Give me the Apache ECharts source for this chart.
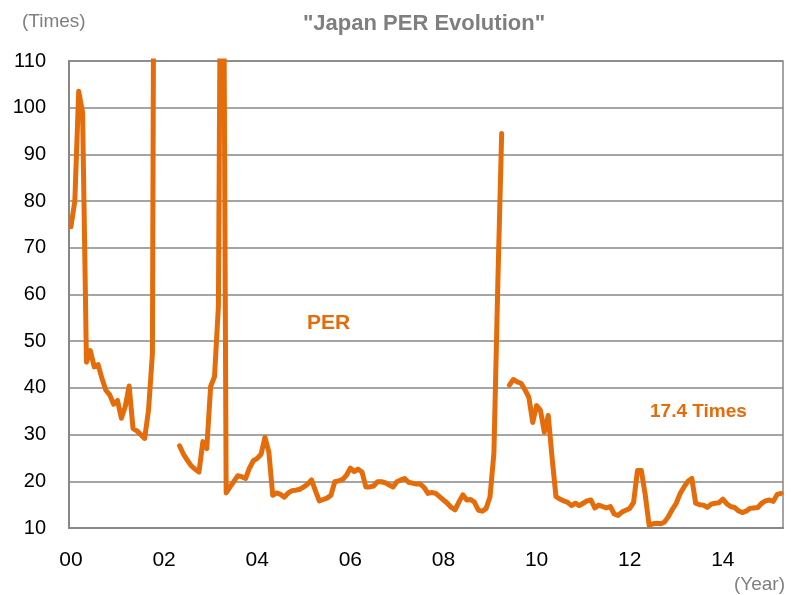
<!DOCTYPE html>
<html>
<head>
<meta charset="utf-8">
<title>Japan PER Evolution</title>
<script src="https://cdn.jsdelivr.net/npm/echarts@6/dist/echarts.min.js"></script>
<style>
  html, body { margin: 0; padding: 0; background: #fff; }
  #main { width: 793px; height: 595px; }
</style>
</head>
<body>
<div id="main"></div>
<script>
// 月度数据 2000/01 - 2015/04
var startYear = 2000
var yearTicks = ['00', '02', '04', '06', '08', '10', '12', '14']
var yTicks = [10, 20, 30, 40, 50, 60, 70, 80, 90, 100, 110]
// PER (times) — values above 110 run off the top of the chart
var per2000 = [74.5, 80, 103.5, 99, 45.5, 48, 44.5, 45, 42, 39.5, 38.5, 36.5]
var per2001 = [37.3, 33.5, 36, 40.4, 31.3, 30.8, 30, 29.2, 35.3, 47.4, 300, null]
var per2002 = [null, null, null, null, 27.6, 25.8, 24.5, 23.3, 22.6, 22, 28.5, 27]
var per2003 = [40.3, 42.4, 57.4, 200, 17.5, 18.8, 20, 21.2, 21, 20.6, 22.8, 24.4]
var per2004 = [24.9, 25.8, 29.4, 26.3, 17, 17.5, 17.2, 16.6, 17.5, 18, 18.1, 18.3]
var per2005 = [18.8, 19.4, 20.3, 18, 15.8, 16.1, 16.4, 17, 19.9, 20.1, 20.4, 21.3]
var per2006 = [22.8, 22.1, 22.6, 22, 18.8, 18.8, 19, 19.9, 19.9, 19.7, 19.2, 18.8]
var per2007 = [19.9, 20.3, 20.6, 19.8, 19.6, 19.4, 19.4, 18.7, 17.4, 17.6, 17.4, 16.7]
var per2008 = [16, 15.3, 14.4, 13.9, 15.6, 17.1, 16, 16.1, 15.5, 13.8, 13.6, 14.2]
var per2009 = [16.7, 26, 62, 94.5, null, 40.6, 41.8, 41.3, 41, 39.6, 38, 32.6]
var per2010 = [36.2, 35.2, 30.5, 34.1, 25, 16.7, 16.2, 15.8, 15.5, 14.8, 15.3, 14.8]
var per2011 = [15.3, 15.8, 16, 14.3, 14.9, 14.6, 14.3, 14.6, 13, 12.7, 13.4, 13.8]
var per2012 = [14.2, 15.5, 22.3, 22.3, 17.1, 10.6, 10.9, 11, 10.9, 11.3, 12.5, 14]
var per2013 = [15.3, 17.4, 18.8, 20, 20.6, 15.3, 15, 14.9, 14.4, 15.1, 15.3, 15.4]
var per2014 = [16.2, 15.2, 14.6, 14.4, 13.7, 13.3, 13.6, 14.2, 14.3, 14.4, 15.3, 15.8]
var per2015 = [16, 15.7, 17.2, 17.4]

var perData = [].concat(per2000, per2001, per2002, per2003, per2004, per2005, per2006,
  per2007, per2008, per2009, per2010, per2011, per2012, per2013, per2014, per2015)

var months = []
for (var i = 0; i < perData.length; i++) {
  var y = startYear + Math.floor(i / 12)
  var m = (i % 12) + 1
  months.push(y + '/' + (m < 10 ? '0' + m : m))
}

var orange = '#E46C0A'
var grey = '#7f7f7f'
var lineGrey = '#878787'
var sans = '"Liberation Sans", Arial, sans-serif'

var myChart = echarts.init(document.getElementById('main'));
var option = {
  animation: false,
  grid: {
    left: 69,
    right: 10,
    top: 61,
    bottom: 67,
    show: true,
    borderColor: lineGrey,
    borderWidth: 1.5
  },
  xAxis: {
    type: 'category',
    data: months,
    boundaryGap: true,
    axisLine: { lineStyle: { color: lineGrey, width: 2 } },
    axisTick: {
      inside: true,
      length: 7,
      interval: 23,
      lineStyle: { color: lineGrey, width: 1.5 }
    },
    axisLabel: {
      interval: 23,
      margin: 22,
      fontSize: 21,
      color: '#000',
      fontFamily: sans,
      formatter: function (val, idx) {
        return yearTicks[Math.floor(idx / 24)]
      }
    },
    splitLine: { show: false }
  },
  yAxis: {
    type: 'value',
    min: yTicks[0],
    max: yTicks[yTicks.length - 1],
    interval: 10,
    axisLine: { show: true, lineStyle: { color: lineGrey, width: 2 } },
    axisTick: { show: false },
    axisLabel: {
      margin: 23,
      fontSize: 20,
      color: '#000',
      fontFamily: sans
    },
    splitLine: { lineStyle: { color: lineGrey, width: 1.5 } }
  },
  series: [
    {
      name: 'PER',
      type: 'line',
      data: perData,
      showSymbol: false,
      connectNulls: false,
      clip: true,
      lineStyle: { color: orange, width: 5, join: 'round', cap: 'round' },
      itemStyle: { color: orange }
    }
  ],
  graphic: [
    {
      type: 'text',
      x: 424,
      y: 13,
      style: {
        text: '"Japan PER Evolution"',
        textAlign: 'center',
        fill: grey,
        font: 'bold 22px ' + sans
      }
    },
    {
      type: 'text',
      x: 22,
      y: 12,
      style: { text: '(Times)', fill: grey, font: '19px ' + sans }
    },
    {
      type: 'text',
      x: 785,
      y: 575,
      style: { text: '(Year)', textAlign: 'right', fill: grey, font: '19px ' + sans }
    },
    {
      type: 'text',
      x: 307,
      y: 313,
      style: { text: 'PER', fill: orange, font: 'bold 21px ' + sans }
    },
    {
      type: 'text',
      x: 650,
      y: 402,
      style: { text: '17.4 Times', fill: orange, font: 'bold 19px ' + sans }
    }
  ]
};
//实例化图表
if (option && typeof option === 'object') {
  myChart.setOption(option);
}
window.addEventListener('resize', function () {
  myChart.resize();
});
</script>
</body>
</html>
